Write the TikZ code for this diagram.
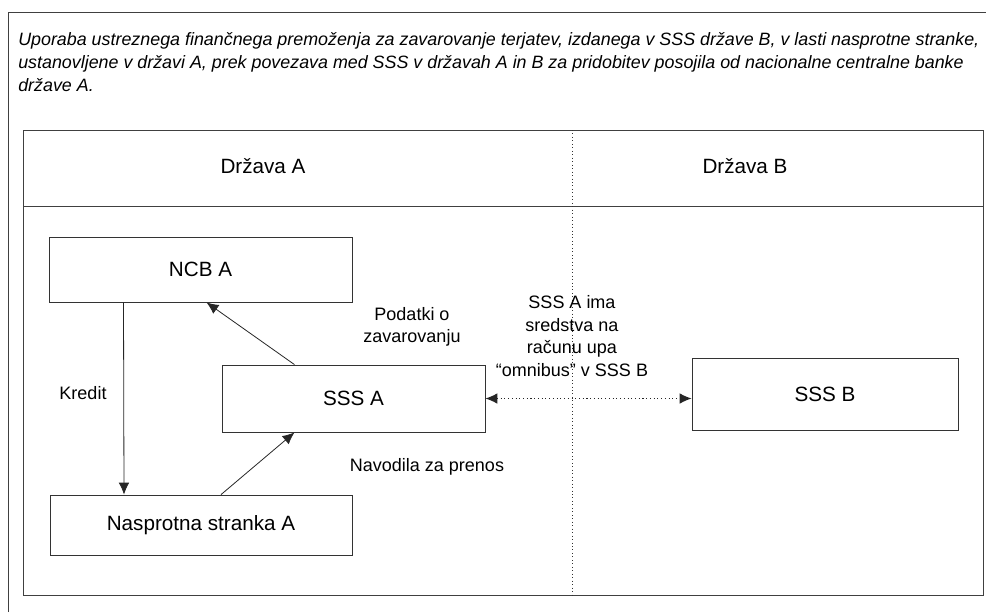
\documentclass[tikz,border=0pt]{standalone}
\usepackage{fontspec}
\setmainfont{Liberation Sans}
\usetikzlibrary{arrows.meta,calc}

\begin{document}
\begin{tikzpicture}[
x=0.75pt, y=-0.75pt,
frame/.style={draw=black!75, semithick},
box/.style={rectangle, draw=black!80, semithick, inner sep=0pt, font=\fontsize{15.5}{18}\selectfont},
label/.style={align=center, inner sep=0pt, font=\fontsize{13.5}{17}\selectfont},
arr/.style={draw=black!85, semithick, -{Latex[length=9pt, width=8pt]}},
link/.style={draw=black!85, thick, dotted, {Latex[length=9pt, width=8pt]}-{Latex[length=9pt, width=8pt]}},
]
\useasboundingbox (0,0) rectangle (986,612);

%Outer frame
\draw[frame] (8,612) -- (8,12) -- (986,12);

%Title
\node[anchor=north west, align=left, inner sep=0pt, font=\fontsize{13.4}{17.25}\selectfont\itshape] (title) at (18,32.5)
{Uporaba ustreznega finančnega premoženja za zavarovanje terjatev, izdanega v SSS države B, v lasti nasprotne stranke,\\
ustanovljene v državi A, prek povezava med SSS v državah A in B za pridobitev posojila od nacionalne centralne banke\\
države A.};

%Inner frame
\draw[frame] (23,130) rectangle (983,595);
\draw[frame] (23,206) -- (983,206);
\draw[black!80, semithick, dotted] (572,130) -- (572,595);

%Countries
\node[box, draw=none] (drzavaA) at (263,166) {Država A};
\node[box, draw=none] (drzavaB) at (745,166) {Država B};

%Boxes
\node[box, minimum width=227.25pt, minimum height=48.75pt] (ncb) at (200.5,269.5) {NCB A};
\node[box, minimum width=197.25pt, minimum height=50.25pt] (sssa) at (353.5,398.5) {SSS A};
\node[box, minimum width=199.5pt, minimum height=54pt] (sssb) at (825,394) {SSS B};
\node[box, minimum width=226.5pt, minimum height=45pt] (nasp) at (201,525) {Nasprotna stranka A};

%Connections
\draw[arr] ($(ncb.south)+(-77,0)$) -- ($(nasp.north)+(-77,0)$);
\draw[arr] ($(sssa.north)+(-59,0)$) -- ($(ncb.south)+(6,0)$);
\draw[arr] ($(nasp.north)+(20,0)$) -- ($(sssa.south)+(-59,0)$);
\draw[link] (sssa.east) -- (sssa.east -| sssb.west);

%Labels
\node[label] (kredit) at (83,393) {Kredit};
\node[label] (podatki) at (412,327) {Podatki o\\zavarovanju};
\node[label] (navodila) at (427,467) {Navodila za prenos};
\node[label] (omnibus) at (572,336) {SSS A ima\\sredstva na\\računu upa\\“omnibus” v SSS B};
\end{tikzpicture}
\end{document}
